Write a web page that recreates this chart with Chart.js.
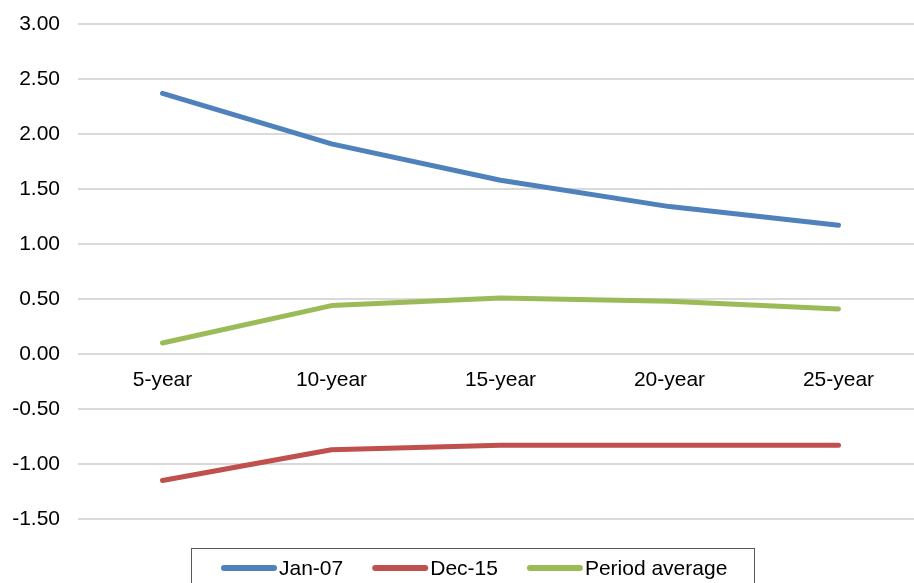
<!DOCTYPE html>
<html>
<head>
<meta charset="utf-8">
<script src="https://cdn.jsdelivr.net/npm/chart.js@4/dist/chart.umd.min.js"></script>
<style>
  html, body { margin: 0; padding: 0; background: #fff; overflow: hidden; }
  #wrap { width: 923px; height: 583px; position: relative; }
</style>
</head>
<body>
<div id="wrap"><canvas id="mycanvas"></canvas></div>
<script>
var maturities = ["5-year", "10-year", "15-year", "20-year", "25-year"];
var jan07 = [2.37, 1.91, 1.58, 1.34, 1.17];
var dec15 = [-1.15, -0.87, -0.83, -0.83, -0.83];
var periodAvg = [0.10, 0.44, 0.51, 0.48, 0.41];

var fontFamily = "'Liberation Sans', Arial, sans-serif";
var font = { family: fontFamily, size: 21 };

// legend row at the bottom: short line sample, label, framed box
var boxLegend = {
	id: "boxLegend",
	afterDraw: function(chart) {
		var ctx = chart.ctx;
		var sets = chart.data.datasets;
		var lineLen = 56, gap = 2, spacing = 29;
		var centerX = 474, textY = 568;

		ctx.save();
		ctx.font = font.size + "px " + fontFamily;
		var widths = sets.map(function(ds) { return ctx.measureText(ds.label).width; });
		var total = 0;
		for (var i = 0; i < sets.length; i++) total += lineLen + gap + widths[i];
		total += spacing * (sets.length - 1);

		var x = Math.round(centerX - total / 2);
		var start = x;
		ctx.textBaseline = "middle";
		ctx.textAlign = "left";
		for (var j = 0; j < sets.length; j++) {
			var ds = sets[j];
			ctx.strokeStyle = ds.borderColor;
			ctx.lineWidth = ds.borderWidth + 1;
			ctx.lineCap = "round";
			ctx.beginPath();
			ctx.moveTo(x + 3, textY);
			ctx.lineTo(x + lineLen - 3, textY);
			ctx.stroke();
			ctx.fillStyle = "#000";
			ctx.fillText(ds.label, x + lineLen + gap, textY + 1);
			x += lineLen + gap + widths[j] + spacing;
		}
		var end = x - spacing;

		ctx.strokeStyle = "#595959";
		ctx.lineWidth = 1;
		ctx.strokeRect(start - 30 + 0.5, 548.5, Math.round(end - start + 57), 60);
		ctx.restore();
	}
};

function series(label, data, color) {
	return {
		label: label,
		data: data,
		borderColor: color,
		backgroundColor: color,
		borderWidth: 5,
		borderCapStyle: "round",
		borderJoinStyle: "round",
		pointRadius: 0,
		pointHoverRadius: 0,
		tension: 0,
		fill: false
	};
}

var ctx = document.getElementById("mycanvas");

new Chart(ctx, {
	type: "line",
	data: {
		labels: maturities,
		datasets: [
			series("Jan-07", jan07, "#4F81BD"),
			series("Dec-15", dec15, "#C0504D"),
			series("Period average", periodAvg, "#9BBB59")
		]
	},
	options: {
		responsive: true,
		maintainAspectRatio: false,
		animation: false,
		layout: { padding: { left: 12, top: 24, right: 0, bottom: 64 } },
		plugins: {
			tooltip: { enabled: false },
			legend: { display: false }
		},
		scales: {
			x: {
				position: { y: 0 },
				offset: true,
				grid: { display: false },
				border: { display: false },
				ticks: { font: font, color: "#000", padding: 6, maxRotation: 0 }
			},
			y: {
				min: -1.5,
				max: 3,
				afterFit: function(scale) {
					scale.width = 66;
					scale.paddingTop = 0;
					scale.paddingBottom = 0;
				},
				grid: { color: "#d9d9d9", lineWidth: 2, drawTicks: false },
				border: { display: false },
				ticks: {
					font: font,
					color: "#000",
					stepSize: 0.5,
					padding: 18,
					callback: function(v) { return Number(v).toFixed(2); }
				}
			}
		}
	},
	plugins: [boxLegend]
});
</script>
</body>
</html>
